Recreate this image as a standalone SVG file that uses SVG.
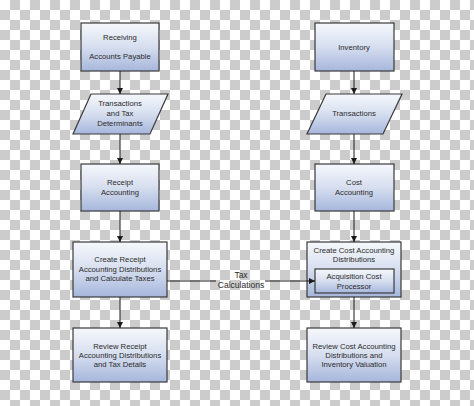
<svg xmlns="http://www.w3.org/2000/svg" width="474" height="406" viewBox="0 0 474 406">
  <defs>
    <pattern id="checker" x="0" y="0" width="20" height="20" patternUnits="userSpaceOnUse">
      <rect width="20" height="20" fill="#ffffff"/>
      <rect x="10" y="0" width="10" height="10" fill="#cccccc"/>
      <rect x="0" y="10" width="10" height="10" fill="#cccccc"/>
    </pattern>
    <linearGradient id="fillGrad" x1="0" y1="0" x2="0" y2="1">
      <stop offset="0" stop-color="#f6f8fc"/>
      <stop offset="0.5" stop-color="#d6deef"/>
      <stop offset="1" stop-color="#a6b6dc"/>
    </linearGradient>
    <marker id="arrow" viewBox="0 0 8 8" refX="8" refY="4" markerWidth="6" markerHeight="6" orient="auto" markerUnits="userSpaceOnUse">
      <path d="M0,0 L8,4 L0,8 z" fill="#1a1a1a"/>
    </marker>
  </defs>
  <style>
    .node { fill: url(#fillGrad); stroke: #3a3a3a; stroke-width: 1.2; }
    .lbl { font-family: "Liberation Sans", Arial, sans-serif; font-size: 7.7px; fill: #2b2b2b; text-anchor: middle; }
    .edge { stroke: #1a1a1a; stroke-width: 1; fill: none; marker-end: url(#arrow); }
    .plain { stroke: #1a1a1a; stroke-width: 1; fill: none; }
    .elbl { font-family: "Liberation Sans", Arial, sans-serif; font-size: 8.5px; fill: #2b2b2b; text-anchor: middle; }
  </style>

  <rect width="474" height="406" fill="url(#checker)"/>

  <g id="receiving">
    <rect class="node" x="81" y="23" width="78" height="48"/>
    <text class="lbl" x="120" y="40">Receiving</text>
    <text class="lbl" x="120" y="59">Accounts Payable</text>
  </g>

  <g id="transactions-tax">
    <polygon class="node" points="91,94 168,94 150,134 73,134"/>
    <text class="lbl" x="120" y="106">Transactions</text>
    <text class="lbl" x="120" y="116">and Tax</text>
    <text class="lbl" x="120" y="126">Determinants</text>
  </g>

  <g id="receipt-accounting">
    <rect class="node" x="81" y="164" width="78" height="47"/>
    <text class="lbl" x="120" y="185">Receipt</text>
    <text class="lbl" x="120" y="195">Accounting</text>
  </g>

  <g id="create-receipt">
    <rect class="node" x="73" y="242" width="94" height="55"/>
    <text class="lbl" x="120" y="262">Create Receipt</text>
    <text class="lbl" x="120" y="272">Accounting Distributions</text>
    <text class="lbl" x="120" y="281">and Calculate Taxes</text>
  </g>

  <g id="review-receipt">
    <rect class="node" x="73" y="328" width="94" height="54"/>
    <text class="lbl" x="120" y="349">Review Receipt</text>
    <text class="lbl" x="120" y="358">Accounting Distributions</text>
    <text class="lbl" x="120" y="367">and Tax Details</text>
  </g>

  <g id="inventory">
    <rect class="node" x="315" y="23" width="79" height="48"/>
    <text class="lbl" x="354" y="50">Inventory</text>
  </g>

  <g id="transactions">
    <polygon class="node" points="326,94 402,94 383,134 307,134"/>
    <text class="lbl" x="354" y="116">Transactions</text>
  </g>

  <g id="cost-accounting">
    <rect class="node" x="315" y="164" width="79" height="47"/>
    <text class="lbl" x="354" y="185">Cost</text>
    <text class="lbl" x="354" y="195">Accounting</text>
  </g>

  <g id="create-cost">
    <rect class="node" x="307" y="242" width="94" height="55"/>
    <text class="lbl" x="354" y="253">Create Cost Accounting</text>
    <text class="lbl" x="354" y="262">Distributions</text>
  </g>

  <g id="acquisition-cost">
    <rect class="node" x="315" y="269" width="79" height="24"/>
    <text class="lbl" x="354" y="279">Acquisition Cost</text>
    <text class="lbl" x="354" y="289">Processor</text>
  </g>

  <g id="review-cost">
    <rect class="node" x="307" y="328" width="94" height="54"/>
    <text class="lbl" x="354" y="349">Review Cost Accounting</text>
    <text class="lbl" x="354" y="358">Distributions and</text>
    <text class="lbl" x="354" y="367">Inventory Valuation</text>
  </g>

  <g id="connectors">
    <line class="edge" x1="120" y1="71" x2="120" y2="94"/>
    <line class="edge" x1="120" y1="134" x2="120" y2="164"/>
    <line class="edge" x1="120" y1="211" x2="120" y2="242"/>
    <line class="edge" x1="120" y1="297" x2="120" y2="328"/>
    <line class="edge" x1="354" y1="71" x2="354" y2="94"/>
    <line class="edge" x1="354" y1="134" x2="354" y2="164"/>
    <line class="edge" x1="354" y1="211" x2="354" y2="242"/>
    <line class="edge" x1="354" y1="297" x2="354" y2="328"/>
    <line class="plain" x1="167" y1="281" x2="216" y2="281"/>
    <line class="edge" x1="265" y1="281" x2="315" y2="281"/>
    <text class="elbl" x="241" y="278">Tax</text>
    <text class="elbl" x="241" y="288">Calculations</text>
  </g>
</svg>
